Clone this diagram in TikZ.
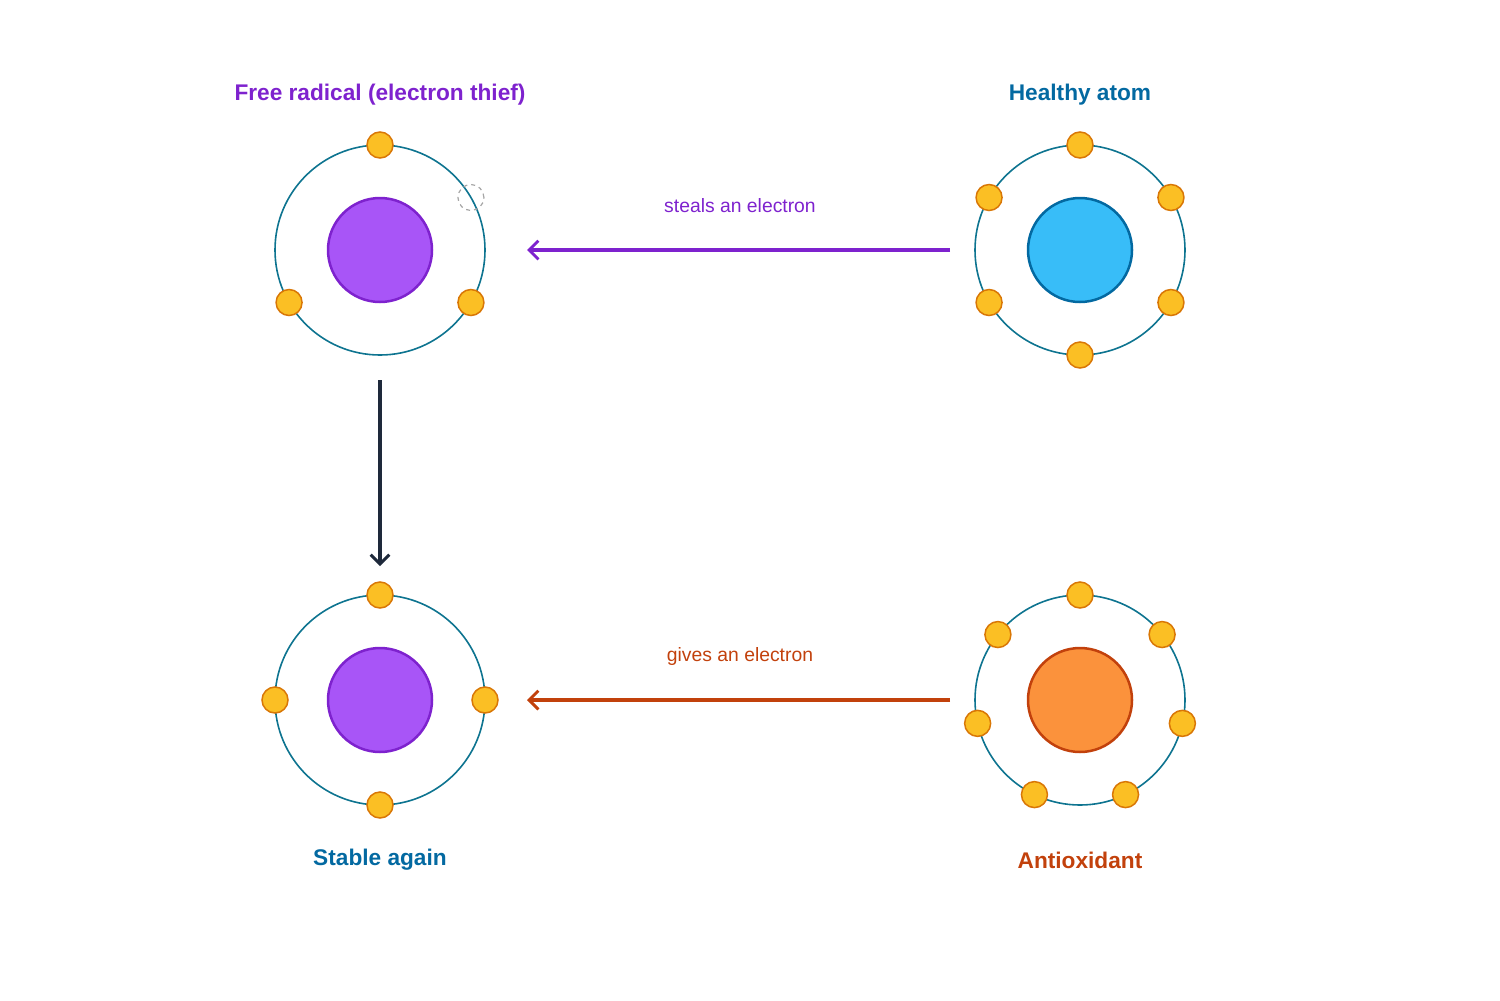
\documentclass[tikz,border=0pt]{standalone}
\usepackage{fontspec}
\setmainfont{Liberation Sans}
\usetikzlibrary{arrows.meta,calc}
\definecolor{orb}{HTML}{0E7490}
\definecolor{pur}{HTML}{7E22CE}
\definecolor{purf}{HTML}{A855F7}
\definecolor{blu}{HTML}{0369A1}
\definecolor{bluf}{HTML}{38BDF8}
\definecolor{org}{HTML}{C2410C}
\definecolor{orgf}{HTML}{FB923C}
\definecolor{ele}{HTML}{FBBF24}
\definecolor{eled}{HTML}{D97706}
\definecolor{dark}{HTML}{1E293B}
\begin{document}
\begin{tikzpicture}[x=0.75pt,y=-0.75pt,
  orbit/.style={circle,draw=orb,line width=1.6pt*0.75,minimum size=210*0.75pt,inner sep=0},
  nuc/.style={circle,line width=2.5pt*0.75,minimum size=104*0.75pt,inner sep=0},
  el/.style={circle,draw=eled,fill=ele,line width=1.5pt*0.75,minimum size=26*0.75pt,inner sep=0},
  hole/.style={circle,draw=gray!70,dashed,line width=1.2pt*0.75,minimum size=26*0.75pt,inner sep=0},
  title/.style={font=\bfseries\fontsize{17}{20}\selectfont},
  lab/.style={font=\fontsize{14.5}{17}\selectfont},
  arr/.style={line width=3pt,-{Straight Barb[length=7pt,width=14pt,line width=2.2pt]}}]
\useasboundingbox (0,0) rectangle (1500,1000);
% orbits
\node[orbit] (o1) at (380,250) {};
\node[orbit] (o2) at (1080,250) {};
\node[orbit] (o3) at (380,700) {};
\node[orbit] (o4) at (1080,700) {};
\node[nuc,draw=pur,fill=purf] (n1) at (380,250) {};
\node[nuc,draw=blu,fill=bluf] (n2) at (1080,250) {};
\node[nuc,draw=pur,fill=purf] (n3) at (380,700) {};
\node[nuc,draw=org,fill=orgf] (n4) at (1080,700) {};
% electrons
\foreach \a [count=\i] in {90,210,330} \node[el] (e1-\i) at ($(380,250)+(\a:105 and -105)$) {};
\node[hole] (h1) at ($(380,250)+(30:105 and -105)$) {};
\foreach \a [count=\i] in {90,30,150,210,330,270} \node[el] (e2-\i) at ($(1080,250)+(\a:105 and -105)$) {};
\foreach \a [count=\i] in {0,90,180,270} \node[el] (e3-\i) at ($(380,700)+(\a:105 and -105)$) {};
\foreach \i in {0,...,6} \node[el] (e4-\i) at ($(1080,700)+({90+\i*360/7}:105 and -105)$) {};
% titles
\node[title,text=pur] (t1) at (380,95) {Free radical (electron thief)};
\node[title,text=blu] (t2) at (1080,95) {Healthy atom};
\node[title,text=blu] (t3) at (380,860) {Stable again};
\node[title,text=org] (t4) at (1080,860) {Antioxidant};
% arrows
\coordinate (a1s) at (950,250); \coordinate (a1e) at (527,250);
\coordinate (a2s) at (950,700); \coordinate (a2e) at (527,700);
\coordinate (a3s) at (380,380); \coordinate (a3e) at (380,566);
\draw[arr,draw=pur] (a1s) -- (a1e);
\draw[arr,draw=org] (a2s) -- (a2e);
\draw[arr,draw=dark] (a3s) -- (a3e);
\node[lab,text=pur] (l1) at (740,206) {steals an electron};
\node[lab,text=org] (l2) at (740,656) {gives an electron};
\end{tikzpicture}
\end{document}
